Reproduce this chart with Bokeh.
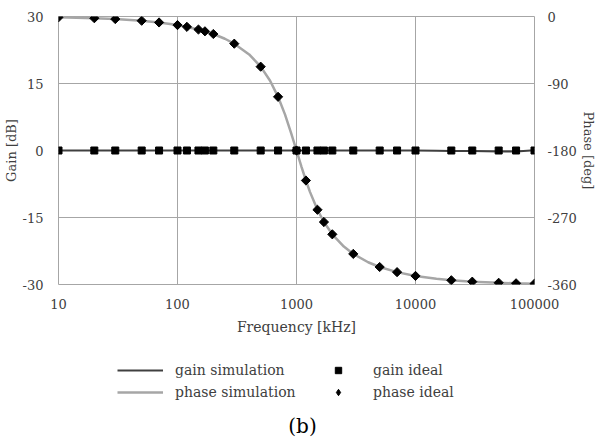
from bokeh.plotting import figure
from bokeh.models import Range1d, LinearAxis, FixedTicker, Legend, LegendItem, Label
from bokeh.layouts import column
from bokeh.embed import file_html
from bokeh.resources import INLINE

# ---- data ----
freq_ideal = [10, 20, 30, 50, 70, 100, 120, 150, 170, 200, 300, 500, 700, 1000,
              1200, 1500, 1700, 2000, 3000, 5000, 7000, 10000, 20000, 30000,
              50000, 70000, 100000]
gain_ideal = [0, 0, 0, 0, 0, 0, 0, 0, 0, 0, 0, 0, 0, 0,
              0, 0, 0, 0, 0, 0, 0, 0, 0, 0, 0, 0, 0]
phase_ideal = [-1.1, -2.3, -3.4, -5.7, -8.0, -11.5, -13.9, -17.5, -19.9, -23.5,
               -36.5, -67.4, -107.9, -180.0, -220.3, -259.6, -276.1, -292.6,
               -318.9, -336.5, -343.4, -348.5, -354.3, -356.2, -357.7, -358.4,
               -358.9]

freq_sim = [10, 20, 30, 50, 70, 100, 150, 200, 250, 300, 400, 500, 600, 700, 800,
            900, 1000, 1100, 1200, 1300, 1500, 1700, 2000, 2500, 3000, 4000, 5000,
            7000, 10000, 15000, 20000, 30000, 50000, 70000, 100000]
gain_sim = [0.0, 0.0, 0.0, 0.0, 0.0, 0.0, 0.0, 0.0, 0.0, 0.0, 0.0, 0.0, 0.0, 0.0,
            0.0, 0.0, 0.0, 0.0, 0.0, 0.0, 0.0, 0.0, 0.0, 0.0, 0.0, 0.0, 0.0,
            0.0, 0.0, -0.05, -0.1, -0.1, -0.2, -0.2, 0.05]
phase_sim = [-1.1, -2.3, -3.4, -5.7, -8.0, -11.5, -17.5, -23.5, -29.9, -36.5,
             -50.9, -67.4, -86.3, -107.9, -131.5, -156.2, -180.0, -201.6, -220.3,
             -235.9, -259.6, -276.1, -292.6, -309.1, -318.9, -330.1, -336.5,
             -343.4, -348.5, -352.3, -354.3, -356.2, -357.7, -358.4, -358.9]

x_ticks = [10, 100, 1000, 10000, 100000]
x_tick_labels = ["10", "100", "1000", "10000", "100000"]
gain_ticks = [-30, -15, 0, 15, 30]
gain_tick_labels = ["-30", "-15", "0", "15", "30"]
phase_ticks = [-360, -270, -180, -90, 0]
phase_tick_labels = ["-360", "-270", "-180", "-90", "0"]

legend_labels = ["gain simulation", "phase simulation", "gain ideal", "phase ideal"]
caption = "(b)"

FONT = "DejaVu Serif"
TXT = "#404040"
GRID = "#a6a6a6"
GAIN_LINE = "#404040"
PHASE_LINE = "#a6a6a6"

p = figure(width=598, height=344, x_axis_type="log",
           x_range=Range1d(10, 100000), y_range=Range1d(-30, 30),
           output_backend="svg", toolbar_location=None, title=None,
           min_border_left=58, min_border_right=62, min_border_top=16,
           min_border_bottom=60, background_fill_color="white",
           border_fill_color="white")
p.outline_line_color = GRID
p.extra_y_ranges = {"phase": Range1d(-360, 0)}

# axes
p.xaxis.ticker = FixedTicker(ticks=x_ticks)
p.xaxis.major_label_overrides = dict(zip(x_ticks, x_tick_labels))
p.xaxis.axis_label = "Frequency [kHz]"
p.yaxis.ticker = FixedTicker(ticks=gain_ticks)
p.yaxis.major_label_overrides = dict(zip(gain_ticks, gain_tick_labels))
p.yaxis.axis_label = "Gain [dB]"

ax2 = LinearAxis(y_range_name="phase", ticker=FixedTicker(ticks=phase_ticks),
                 axis_label="Phase [deg]")
ax2.major_label_overrides = dict(zip(phase_ticks, phase_tick_labels))
p.add_layout(ax2, "right")

for ax in [p.xaxis[0], p.yaxis[0], ax2]:
    ax.axis_line_color = None
    ax.major_tick_line_color = None
    ax.minor_tick_line_color = None
    ax.major_tick_out = 0
    ax.major_tick_in = 0
    ax.minor_tick_out = 0
    ax.minor_tick_in = 0
    ax.major_label_text_font = FONT
    ax.major_label_text_font_size = "13px"
    ax.major_label_text_color = TXT
    ax.axis_label_text_font = FONT
    ax.axis_label_text_font_size = "13px"
    ax.axis_label_text_font_style = "normal"
    ax.axis_label_text_color = TXT

p.xaxis.axis_label_text_font_size = "14px"
p.xaxis.major_label_standoff = 14
p.xaxis.axis_label_standoff = 7
p.yaxis.major_label_standoff = 15
p.yaxis.axis_label_standoff = 1
ax2.major_label_standoff = 13
ax2.axis_label_standoff = 1

p.xgrid.ticker = FixedTicker(ticks=x_ticks)
p.ygrid.ticker = FixedTicker(ticks=gain_ticks)
p.xgrid.grid_line_color = GRID
p.ygrid.grid_line_color = GRID

# glyphs
p.line(freq_sim, phase_sim, y_range_name="phase",
       line_color=PHASE_LINE, line_width=2.5)
p.line(freq_sim, gain_sim, line_color=GAIN_LINE, line_width=2)
p.scatter(freq_ideal, gain_ideal, marker="square", size=7,
          fill_color="black", line_color="black")
p.scatter(freq_ideal, phase_ideal, y_range_name="phase",
          marker="square", angle=0.785398, size=6.5,
          fill_color="black", line_color="black")

# ---- legend + caption panel (its frame is aligned with the chart frame) ----
q = figure(width=598, height=100, x_range=Range1d(0, 1), y_range=Range1d(0, 1),
           x_axis_location=None, y_axis_location=None, min_border=0,
           output_backend="svg", toolbar_location=None, title=None,
           background_fill_color="white", border_fill_color="white")
q.outline_line_color = None
q.grid.visible = False

# legend-only renderers: one point each, placed outside the visible range
off = [5]
l_gain = q.line(x=off, y=off, line_color=GAIN_LINE, line_width=2)
l_phase = q.line(x=off, y=off, line_color=PHASE_LINE, line_width=2.5)
m_gain = q.scatter(x=off, y=off, marker="square", size=6,
                   fill_color="black", line_color="black")
m_phase = q.scatter(x=off, y=off, marker="diamond", size=8,
                    fill_color="black", line_color="black")

legend = Legend(items=[
    LegendItem(label=legend_labels[0], renderers=[l_gain]),
    LegendItem(label=legend_labels[1], renderers=[l_phase]),
    LegendItem(label=legend_labels[2], renderers=[m_gain]),
    LegendItem(label=legend_labels[3], renderers=[m_phase]),
], ncols=2, location=(59, 44), glyph_width=46, glyph_height=16,
    label_height=16, label_width=134, label_standoff=12, spacing=6,
    padding=0, margin=0, border_line_color=None, background_fill_alpha=0,
    label_text_font=FONT, label_text_font_size="14px", label_text_color=TXT)
q.add_layout(legend, "center")

q.add_layout(Label(x=244, y=19, x_units="screen", y_units="screen", text=caption,
                   text_align="center", text_baseline="middle",
                   text_font=FONT, text_font_size="20px", text_color="black"))

layout = column(p, q, spacing=0)
open("out.html", "w").write(file_html(layout, INLINE))
